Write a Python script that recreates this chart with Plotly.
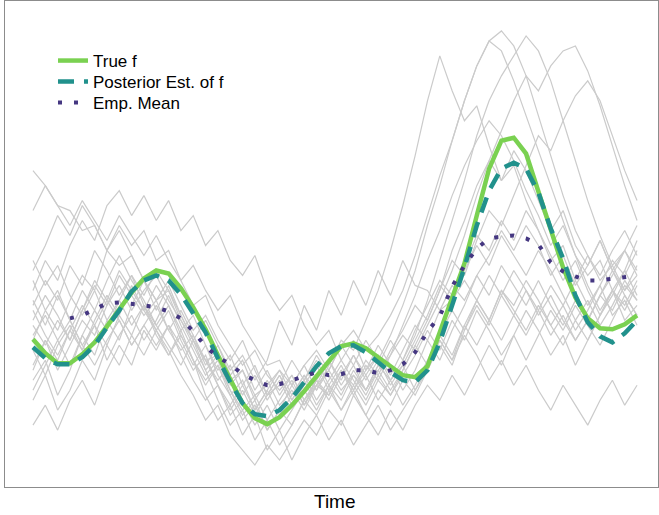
import plotly.graph_objects as go

time = list(range(50))

true_f = [0.22, -0.06, -0.26, -0.26, -0.08, 0.16, 0.48, 0.82, 1.16, 1.44,
          1.60, 1.54, 1.24, 0.86, 0.42, -0.10, -0.56, -1.06, -1.36, -1.48,
          -1.34, -1.10, -0.82, -0.52, -0.24, 0.08, 0.14, 0.04, -0.14, -0.32,
          -0.50, -0.54, -0.32, 0.36, 1.06, 1.74, 2.70, 3.64, 4.20, 4.26,
          3.94, 3.20, 2.44, 1.66, 1.06, 0.64, 0.44, 0.42, 0.52, 0.70]

posterior_f = [0.06, -0.16, -0.28, -0.28, -0.14, 0.10, 0.46, 0.80, 1.18, 1.40,
               1.50, 1.40, 1.12, 0.74, 0.36, -0.16, -0.64, -1.06, -1.28, -1.32,
               -1.20, -0.96, -0.64, -0.32, -0.06, 0.08, 0.10, -0.04, -0.24, -0.44,
               -0.60, -0.64, -0.40, 0.16, 0.90, 1.66, 2.50, 3.20, 3.64, 3.76,
               3.64, 3.16, 2.44, 1.84, 1.10, 0.56, 0.28, 0.16, 0.34, 0.60]

emp_mean = [None, None, None, 0.64, 0.70, 0.82, 0.94, 0.96, 0.94, 0.90,
            0.86, 0.78, 0.64, 0.38, 0.08, -0.14, -0.28, -0.48, -0.60, -0.70,
            -0.68, -0.60, -0.50, -0.44, -0.50, -0.48, -0.40, -0.40, -0.46, -0.40,
            -0.28, -0.04, 0.38, 0.68, 1.28, 1.70, 2.04, 2.24, 2.28, 2.30,
            2.24, 2.12, 1.76, 1.58, 1.48, 1.40, 1.40, 1.44, 1.46, 1.50]

sample_1 = [3.6, 3.3, 2.9, 2.8, 2.4, 2.5, 2.0, 1.7, 1.9, 1.4,
            1.0, 1.2, 0.6, 0.2, -0.2, -0.1, -0.6, -0.4, -0.9, -0.7,
            -0.4, -0.7, -0.3, 0.0, -0.4, 0.1, 0.4, 0.0, 0.3, 0.7,
            1.2, 1.9, 2.7, 3.5, 4.2, 5.0, 5.7, 6.2, 6.4, 6.1,
            5.5, 4.7, 3.9, 3.1, 2.4, 1.9, 1.4, 1.7, 1.2, 1.5]
sample_2 = [0.2, 0.8, 0.4, 1.0, 1.5, 1.2, 2.0, 2.5, 2.1, 2.4,
            1.8, 2.0, 1.4, 0.9, 1.1, 0.5, 0.1, -0.3, 0.0, -0.5,
            -0.8, -0.5, -1.0, -0.7, -0.4, -0.8, -0.5, -0.8, -0.3, -0.6,
            -0.2, 0.3, 1.0, 1.8, 2.6, 3.4, 4.3, 5.0, 5.5, 5.9,
            6.3, 6.0, 5.4, 4.6, 3.8, 3.0, 2.3, 1.7, 2.0, 1.5]
sample_3 = [-0.6, -0.2, -0.9, -0.4, 0.3, -0.1, 0.6, 0.2, 0.9, 1.4,
            0.8, 1.3, 0.7, 0.2, -0.4, -1.0, -1.5, -1.2, -1.8, -1.4,
            -1.9, -1.5, -1.0, -1.3, -0.8, -1.2, -0.7, -1.1, -0.6, -0.9,
            -0.4, 0.1, 0.6, 1.2, 2.0, 2.6, 3.3, 3.8, 3.4, 4.0,
            3.6, 3.0, 2.4, 2.8, 2.1, 1.7, 2.2, 1.6, 1.1, 0.7]
sample_4 = [1.4, 0.8, 1.2, 0.6, 0.1, 0.5, -0.2, 0.3, 0.7, 0.2,
            0.6, 1.1, 0.5, 0.0, -0.5, -0.2, -0.8, -1.3, -1.0, -1.6,
            -1.2, -0.7, -1.1, -0.6, -1.0, -0.5, -0.1, -0.6, -0.2, 0.3,
            0.9, 1.6, 2.5, 3.3, 4.2, 5.0, 5.7, 6.2, 6.0, 5.4,
            4.7, 4.0, 3.3, 2.6, 1.9, 1.3, 0.8, 1.2, 0.6, 0.9]
sample_5 = [0.9, 1.4, 1.0, 1.7, 1.3, 2.0, 1.6, 1.1, 1.5, 0.9,
            0.4, 0.8, 0.2, -0.3, 0.1, -0.5, -0.9, -0.6, -1.2, -0.8,
            -1.3, -0.9, -0.5, -0.8, -0.3, 0.2, 0.0, 0.6, 1.2, 2.0,
            2.9, 3.9, 5.0, 5.9, 5.2, 4.6, 4.9, 4.1, 3.4, 3.7,
            3.0, 2.4, 1.8, 2.1, 1.4, 0.9, 1.3, 0.7, 1.0, 0.5]
sample_6 = [-0.3, 0.2, -0.4, 0.1, 0.6, 0.3, 0.9, 1.3, 0.8, 1.2,
            1.5, 1.0, 0.6, 0.1, -0.4, -0.1, -0.7, -0.4, -1.0, -0.6,
            -1.1, -0.8, -1.2, -0.7, -0.9, -0.4, -0.8, -0.3, -0.6, -0.1,
            0.3, 0.0, 0.5, 1.0, 1.6, 2.3, 3.1, 3.8, 4.4, 5.0,
            5.5, 5.2, 5.7, 6.0, 6.1, 5.6, 4.9, 4.1, 3.3, 2.6]
sample_7 = [1.8, 1.3, 1.7, 1.1, 0.7, 1.2, 0.6, 1.0, 0.5, 0.9,
            0.3, -0.1, 0.4, -0.2, -0.6, -0.3, -0.9, -1.4, -1.1, -1.6,
            -1.2, -1.5, -1.0, -0.6, -0.9, -0.4, -0.7, -0.2, -0.5, 0.0,
            0.4, 0.9, 0.6, 1.2, 1.8, 1.5, 2.2, 2.8, 2.5, 3.1,
            3.7, 4.3, 4.0, 4.6, 5.1, 5.4, 5.0, 4.3, 3.6, 3.0]
sample_8 = [0.5, 0.1, 0.6, 0.2, 0.8, 1.3, 0.9, 1.5, 1.1, 0.7,
            1.0, 0.4, 0.0, 0.3, -0.3, 0.1, -0.5, -0.2, -0.8, -0.4,
            -0.9, -0.5, -1.0, -0.6, -0.2, -0.7, -0.3, -0.8, -0.4, -0.1,
            0.5, 1.1, 1.8, 2.4, 3.1, 3.7, 4.2, 4.6, 4.3, 3.8,
            3.2, 2.7, 2.1, 2.5, 1.9, 1.5, 1.8, 1.2, 1.6, 1.1]
sample_9 = [1.2, 1.8, 1.4, 2.1, 2.6, 2.2, 2.9, 3.2, 2.7, 3.1,
            2.6, 3.0, 2.4, 2.7, 2.1, 2.4, 1.8, 1.5, 1.9, 1.2,
            0.8, 1.1, 0.5, 0.1, 0.4, -0.2, 0.2, -0.4, -0.1, -0.6,
            -0.3, -0.8, -0.4, 0.1, -0.3, 0.4, 0.9, 0.5, 1.1, 0.7,
            1.2, 0.8, 0.3, 0.7, 0.2, 0.6, 1.1, 0.8, 1.3, 1.0]
sample_10 = [-1.0, -0.5, -1.2, -0.8, -0.2, -0.6, 0.1, -0.3, 0.3, -0.1,
             0.4, 0.0, -0.5, -0.9, -1.4, -1.1, -1.7, -2.0, -2.3, -1.9,
             -2.2, -1.8, -1.4, -1.7, -1.2, -1.5, -0.9, -1.3, -0.8, -1.1,
             -0.6, -0.9, -0.4, 0.2, -0.2, 0.5, 1.0, 0.6, 1.2, 0.9,
             1.4, 1.0, 0.5, 0.9, 0.4, 0.8, 1.3, 1.8, 1.5, 2.0]
sample_11 = [0.6, 1.1, 0.7, 0.2, 0.8, 1.4, 1.0, 1.6, 1.2, 0.8,
             1.3, 0.9, 0.4, 0.7, 0.1, -0.4, -0.1, -0.7, -0.3, -0.9,
             -0.5, -1.0, -0.6, -0.2, -0.7, -0.3, -0.8, -0.4, 0.1, -0.3,
             -0.8, -0.4, 0.2, -0.2, 0.4, 0.9, 1.5, 1.9, 2.4, 2.0,
             2.5, 2.1, 1.5, 1.9, 1.3, 1.7, 2.2, 1.6, 2.0, 2.5]
sample_12 = [-1.5, -1.1, -1.6, -1.0, -0.6, -1.1, -0.4, 0.1, -0.3, 0.4,
             0.0, 0.5, 0.1, -0.4, -0.1, -0.7, -1.2, -0.8, -1.3, -0.9,
             -0.5, -1.0, -0.6, -1.1, -0.7, -1.2, -0.8, -1.3, -1.7, -1.2,
             -1.6, -1.1, -0.7, -1.0, -0.5, -0.9, -0.4, 0.1, -0.3, 0.3,
             0.8, 0.4, -0.1, 0.3, -0.3, 0.2, 0.7, 1.2, 0.9, 1.4]
sample_13 = [1.6, 2.1, 2.7, 2.3, 2.9, 2.5, 2.0, 2.4, 1.9, 1.4,
             1.0, 1.4, 0.9, 0.4, 0.7, 0.2, -0.2, 0.2, -0.4, -0.9,
             -0.7, -0.2, -0.6, -0.1, -0.5, -0.9, -0.4, -0.8, -0.3, 0.2,
             -0.2, 0.4, 0.9, 1.4, 1.1, 1.7, 2.3, 2.0, 2.6, 2.2,
             2.8, 2.4, 1.9, 1.4, 1.8, 1.2, 0.7, 1.1, 1.6, 2.2]
sample_14 = [0.0, -0.5, 0.1, 0.5, 0.0, 0.6, 1.1, 0.7, 1.3, 0.8,
             0.4, -0.1, 0.3, -0.2, -0.7, -0.3, -0.8, -1.2, -0.9, -1.4,
             -1.0, -0.6, -1.1, -0.7, -0.2, -0.6, -0.1, -0.5, -1.0, -0.6,
             -1.1, -0.7, -0.2, 0.3, -0.1, 0.5, 0.1, 0.6, 0.2, 0.7,
             0.3, 0.8, 1.3, 0.9, 1.4, 1.9, 1.5, 2.0, 2.4, 1.9]
sample_15 = [1.0, 0.5, 1.1, 0.6, 1.2, 0.8, 1.4, 1.9, 1.4, 1.0,
             0.5, 0.9, 0.3, -0.2, -0.9, -1.4, -1.1, -1.7, -1.3, -2.0,
             -1.6, -2.2, -1.7, -1.3, -1.8, -1.4, -1.9, -1.5, -1.1, -1.6,
             -1.2, -0.8, -0.3, 0.2, -0.2, 0.3, -0.1, -0.6, -0.2, -0.7,
             -0.3, -0.8, -1.2, -0.7, -1.1, -1.5, -1.0, -0.6, -1.1, -0.7]
sample_16 = [-0.4, 0.2, -0.2, 0.4, 0.9, 0.5, 1.0, 0.6, 0.1, 0.5,
             0.9, 0.4, 0.8, 0.3, -0.2, -0.6, -0.3, -0.9, -0.5, -1.0,
             -0.6, -1.1, -0.7, -0.3, -0.8, -0.4, -0.9, -0.5, -0.1, -0.5,
             0.0, 0.5, 0.2, 0.8, 1.3, 1.0, 1.5, 1.1, 1.7, 1.3,
             0.9, 1.4, 0.9, 0.5, 1.0, 0.6, 1.1, 1.6, 1.2, 1.7]
sample_17 = [0.8, 0.3, -0.1, 0.4, 0.0, 0.5, 0.1, 0.7, 0.3, 0.9,
             0.5, 0.1, -0.3, 0.2, -0.2, -0.7, -1.1, -0.7, -1.2, -0.8,
             -0.4, -0.9, -0.5, -1.0, -0.6, -0.2, -0.6, -1.0, -0.5, -0.9,
             -0.5, -0.1, 0.4, 0.0, 0.6, 0.2, 0.8, 0.4, -0.1, 0.3,
             -0.2, 0.3, 0.8, 0.4, 0.9, 0.5, 0.1, 0.6, 1.1, 0.7]
sample_18 = [2.8, 3.3, 2.9, 2.5, 3.0, 2.6, 2.2, 2.7, 2.3, 1.9,
             2.3, 1.8, 1.4, 1.7, 1.2, 0.8, 1.1, 0.5, 0.1, -0.3,
             -0.2, -0.7, -0.3, -0.8, -0.4, 0.1, -0.3, 0.2, -0.2, -0.7,
             -0.3, 0.2, 0.7, 1.3, 1.0, 1.6, 2.1, 1.7, 2.3, 1.9,
             1.5, 2.0, 1.6, 1.1, 0.6, 1.0, 0.5, 0.9, 1.4, 1.0]
sample_19 = [-0.8, -0.3, 0.2, -0.3, 0.3, 0.8, 0.4, 1.0, 1.5, 1.1,
             1.6, 1.2, 0.7, 0.2, 0.6, 0.1, -0.4, -0.1, -0.6, -0.2,
             0.6, 0.1, 0.9, 0.4, 1.2, 0.7, 1.4, 0.9, 1.6, 1.1,
             1.8, 1.3, 1.2, 0.8, 1.0, 1.4, 1.0, 1.5, 1.1, 1.6,
             1.2, 0.7, 1.1, 0.6, 0.2, 0.6, 1.1, 1.5, 2.0, 1.6]
sample_20 = [0.3, 0.7, 0.2, 0.6, 0.1, -0.3, 0.2, 0.6, 0.1, 0.5,
             0.1, 0.5, -0.1, -0.6, -1.0, -0.7, -1.3, -1.0, -1.5, -1.1,
             -1.6, -1.2, -0.8, -1.2, -0.7, -1.0, -0.5, -0.9, -0.4, -0.8,
             -0.4, 0.1, -0.3, 0.3, 0.8, 0.4, 1.0, 0.6, 1.2, 0.8,
             0.4, 0.9, 0.5, 0.1, 0.6, 0.2, 0.7, 1.2, 0.8, 1.3]

samples = [sample_1, sample_2, sample_3, sample_4, sample_5, sample_6, sample_7,
           sample_8, sample_9, sample_10, sample_11, sample_12, sample_13, sample_14,
           sample_15, sample_16, sample_17, sample_18, sample_19, sample_20]

GRAY = "#cbcbcb"
GREEN = "#7ad151"
TEAL = "#21918c"
PURPLE = "#453781"
FONT = "Liberation Sans, Arial, sans-serif"

fig = go.Figure()
for s in samples:
    fig.add_trace(go.Scatter(x=time, y=s, mode="lines", showlegend=False,
                             hoverinfo="skip",
                             line=dict(color=GRAY, width=1.2)))

fig.add_trace(go.Scatter(x=time, y=true_f, mode="lines", name="True f",
                         legend="legend",
                         line=dict(color=GREEN, width=4.5)))
fig.add_trace(go.Scatter(x=time, y=posterior_f, mode="lines", name="Posterior Est. of f",
                         legend="legend2",
                         line=dict(color=TEAL, width=4.5, dash="16px,10px")))
fig.add_trace(go.Scatter(x=time, y=emp_mean, mode="lines", name="Emp. Mean",
                         legend="legend3",
                         line=dict(color=PURPLE, width=4, dash="4px,12px")))

# plot area: top=1px, height=486px
def py(ypx):
    return (487 - ypx) / 486

leg_common = dict(x=0.0735, xanchor="left", yanchor="middle",
                  bgcolor="rgba(0,0,0,0)", borderwidth=0,
                  font=dict(size=17, family=FONT, color="black"))

fig.update_layout(
    width=659, height=515,
    margin=dict(l=5, r=1, t=1, b=28),
    paper_bgcolor="white", plot_bgcolor="white",
    font=dict(family=FONT, color="black"),
    showlegend=True,
    legend=dict(y=py(61), **leg_common),
    legend2=dict(y=py(82), **leg_common),
    legend3=dict(y=py(103), **leg_common),
    xaxis=dict(range=[-2.27, 50.7], showgrid=False, zeroline=False,
               showticklabels=False, ticks="", showline=True, mirror=True,
               linecolor="#8c8c8c", linewidth=1),
    yaxis=dict(range=[-2.74, 7.0], showgrid=False, zeroline=False,
               showticklabels=False, ticks="", showline=True, mirror=True,
               linecolor="#8c8c8c", linewidth=1),
    annotations=[dict(text="Time", xref="paper", yref="paper",
                      x=0.506, y=py(501), xanchor="center", yanchor="middle",
                      showarrow=False, font=dict(size=19, family=FONT, color="black"))],
)

fig.write_html("out.html")
